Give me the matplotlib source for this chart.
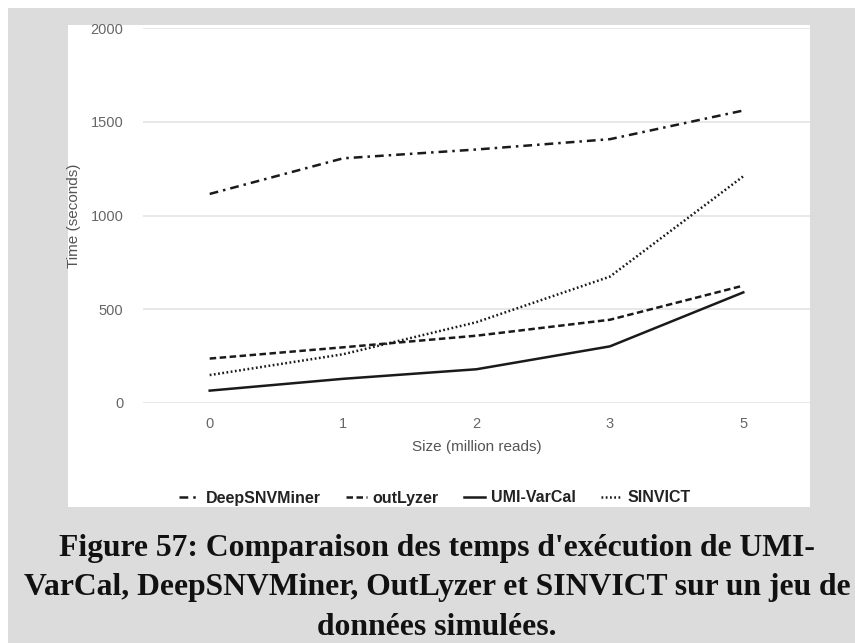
import numpy as np
import matplotlib.pyplot as plt
from matplotlib.patches import Rectangle

# Run times (seconds) per data set size
sizes = ["0", "1", "2", "3", "5"]
deepsnvminer = [1115, 1305, 1352, 1407, 1560]
outlyzer = [237, 297, 359, 444, 626]
umi_varcal = [66, 129, 180, 302, 590]
sinvict = [149, 260, 431, 674, 1209]

y_ticks = [0, 500, 1000, 1500, 2000]

plt.rcParams["font.family"] = ["Liberation Sans", "DejaVu Sans"]

W, H = 855, 643
fig = plt.figure(figsize=(W / 100, H / 100), dpi=100)
fig.patch.set_facecolor("white")


def px_rect(x0, y0, x1, y1, color, z):
    # rectangle given in pixel coords from the top-left corner
    r = Rectangle((x0 / W, 1 - y1 / H), (x1 - x0) / W, (y1 - y0) / H,
                  transform=fig.transFigure, facecolor=color,
                  edgecolor="none", zorder=z)
    fig.patches.append(r)


px_rect(8, 8, W, H, "#dcdcdc", -3)
px_rect(68, 25, 810, 507, "white", -2)

ax = fig.add_axes([143 / W, 1 - 403 / H, 667 / W, 375 / H])
ax.set_facecolor("none")

x = np.arange(len(sizes))
ink = "#1a1a1a"
ax.plot(x, deepsnvminer, color=ink, lw=1.8, linestyle=(0, (3.5, 2, 1, 2)),
        label="DeepSNVMiner")
ax.plot(x, outlyzer, color=ink, lw=1.8, linestyle=(0, (2.6, 1.4)),
        label="outLyzer")
ax.plot(x, umi_varcal, color=ink, lw=1.8, linestyle="-", label="UMI-VarCal")
ax.plot(x, sinvict, color=ink, lw=1.8, linestyle=(0, (0.7, 1.0)),
        label="SINVICT")

ax.set_xlim(-0.5, 4.5)
ax.set_ylim(0, 2000)
ax.set_xticks(x)
ax.set_xticklabels(sizes)
ax.set_yticks(y_ticks)
ax.grid(axis="y", color="#e6e6e6", lw=1.3)
ax.set_axisbelow(True)
for s in ax.spines.values():
    s.set_visible(False)
ax.tick_params(length=0, labelsize=10.5, labelcolor="#666666")
ax.tick_params(axis="x", pad=10)
ax.tick_params(axis="y", pad=14)

ax.set_xlabel("Size (million reads)", fontsize=11, color="#555555")
ax.xaxis.set_label_coords(0.5, -0.117)
ax.xaxis.label.set_va("center")
ax.set_ylabel("Time (seconds)", fontsize=11, color="#555555")
ax.yaxis.set_label_coords(-0.1034, 0.5)
ax.yaxis.label.set_va("center")

leg = fig.legend(loc="center", bbox_to_anchor=(435 / W, 1 - 498 / H),
                 ncol=4, frameon=False, fontsize=11.5, handlelength=1.3,
                 columnspacing=1.6, handletextpad=0.35)
for t in leg.get_texts():
    t.set_color("#222222")
    t.set_fontweight("bold")

caption = ["Figure 57: Comparaison des temps d'exécution de UMI-",
           "VarCal, DeepSNVMiner, OutLyzer et SINVICT sur un jeu de",
           "données simulées."]
for i, line in enumerate(caption):
    fig.text(437 / W, 1 - (556 + 39.5 * i) / H, line, ha="center",
             va="baseline", fontsize=22.8, fontweight="bold",
             family="Liberation Serif", color="#111111")

fig.savefig("out.png", dpi=100, facecolor=fig.get_facecolor())
